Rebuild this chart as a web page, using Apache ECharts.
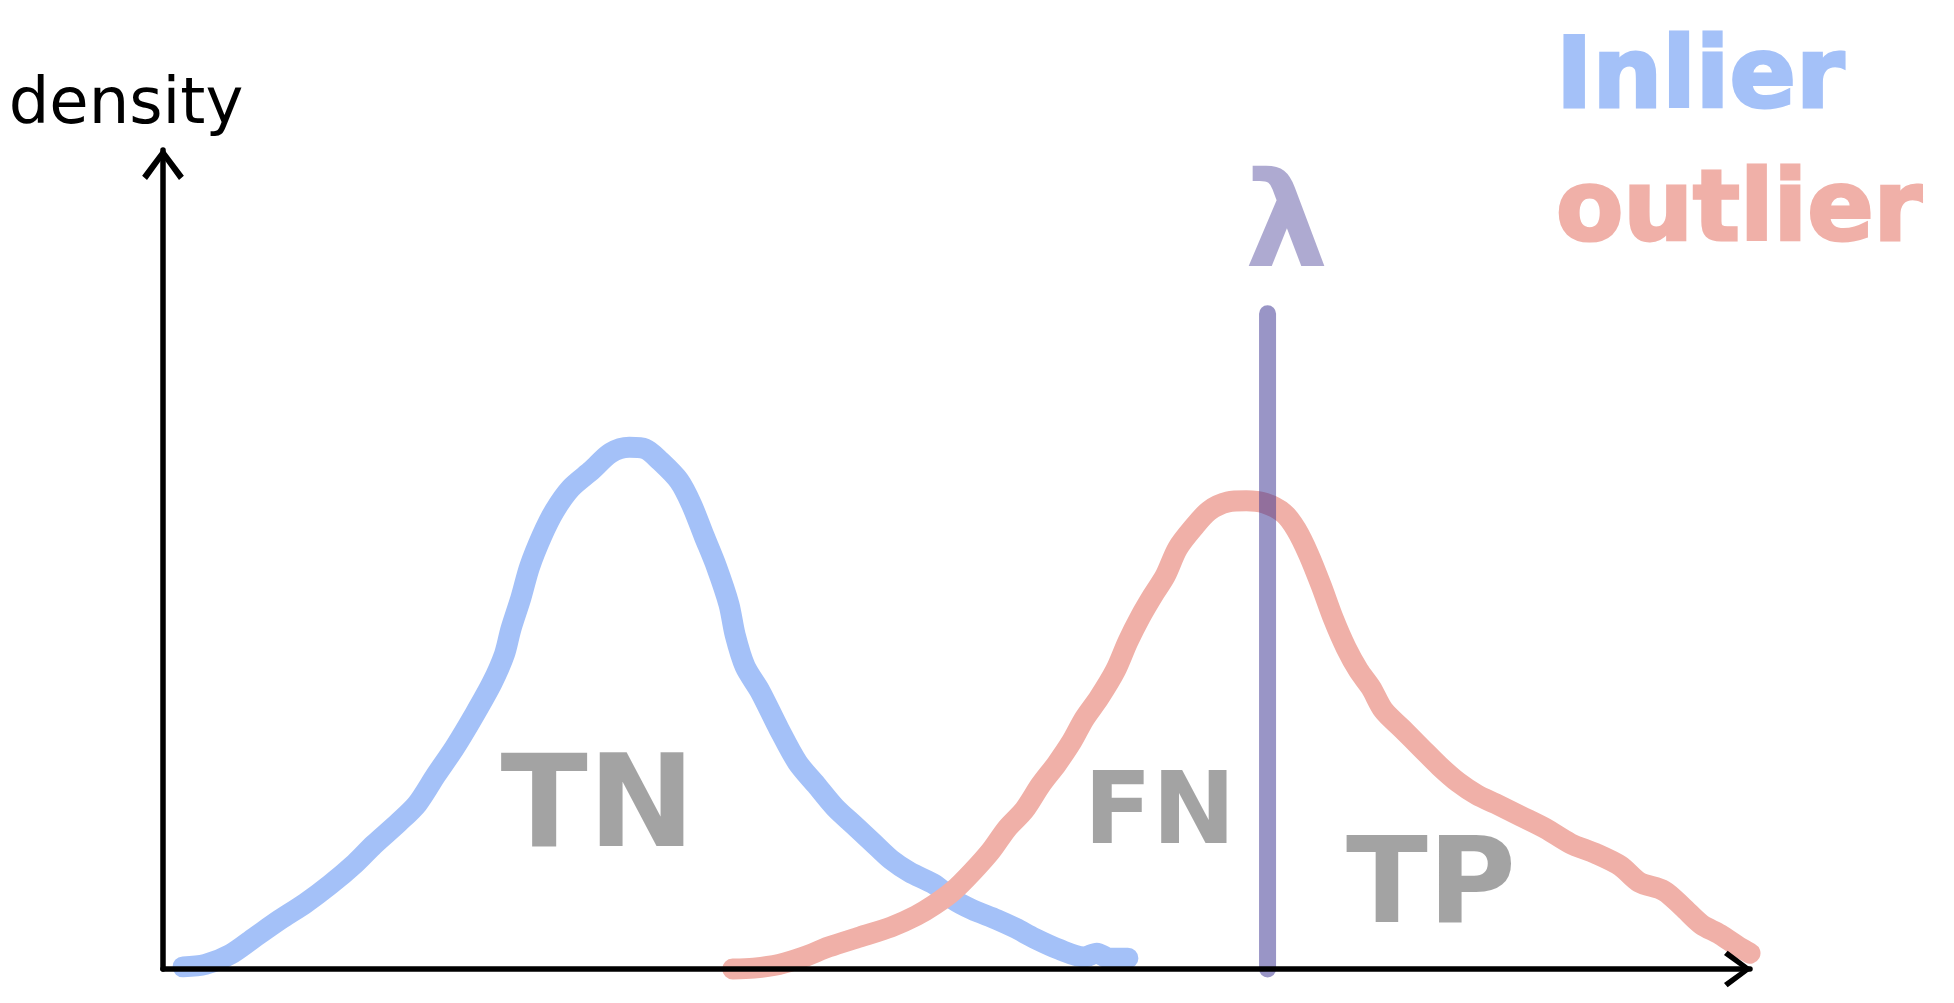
<!DOCTYPE html>
<html>
<head>
<meta charset="utf-8">
<script src="https://cdn.jsdelivr.net/npm/echarts@6/dist/echarts.min.js"></script>
<style>
html,body{margin:0;padding:0;background:#fff;}
#chart{width:1954px;height:1003px;}
</style>
</head>
<body>
<div id="chart"></div>
<script>
// ---- data ----
const inlierX = [1.26,2.67,4.24,5.81,7.38,8.96,10.53,12.10,13.28,14.85,16.03,17.20,18.38,19.56,20.74,21.52,21.92,22.55,23.10,23.88,24.67,25.69,27.02,28.20,29.38,30.40,31.34,32.52,33.31,34.09,34.88,35.66,36.06,36.68,37.63,38.81,39.98,41.16,42.34,43.52,44.70,45.88,47.05,48.63,49.80,50.98,52.55,53.73,54.91,56.48,58.05,58.84,59.62,60.80];
const inlierY = [0.26,0.56,1.78,3.91,6.04,8.02,10.30,12.89,15.17,17.91,20.19,23.69,27.04,30.84,34.95,38.45,41.49,45.30,49.10,52.90,55.94,58.7,60.9,63.0,63.7,63.5,62.0,59.6,56.71,52.90,49.10,44.54,40.73,36.93,33.89,29.33,25.22,22.48,19.74,17.61,15.48,13.35,11.83,10.30,8.48,7.26,6.04,4.98,3.76,2.39,1.48,1.93,1.32,1.32];

const outlierX = [35.90,37.23,38.81,40.38,41.95,43.91,45.88,47.45,48.63,49.80,50.98,52.16,53.18,54.28,55.30,56.32,57.27,58.05,58.99,60.02,60.80,61.59,62.37,63.16,63.94,64.96,65.91,67.09,68.26,69.44,70.62,71.41,72.19,72.98,73.76,74.55,75.33,76.12,76.90,78.08,79.26,80.44,81.62,82.80,83.97,85.55,87.12,88.69,90.26,91.83,93.01,94.58,95.76,96.94,98.12,99.29,100.0];
const outlierY = [0.0,0.11,0.56,1.48,2.69,3.91,5.13,6.50,7.87,9.55,11.83,14.41,17.15,19.43,22.48,25.06,27.80,30.54,33.13,36.47,39.97,43.01,45.60,48.03,51.38,53.97,55.94,57.01,57.16,56.86,55.64,53.66,50.62,46.82,42.71,39.21,36.47,34.34,31.60,29.33,27.04,24.76,22.78,21.26,20.19,18.67,17.15,15.32,14.11,12.59,10.61,9.55,7.57,5.44,4.22,2.69,1.93];

const thresholdX = 69.6;
const thresholdTop = 80;
const thresholdSymbol = 'λ';
const thresholdSymbolAt = [70.8, 90.0];

const regionNames = ['TN', 'FN', 'TP'];
const regionX = [27.4, 62.8, 79.9];
const regionY = [19.1, 18.6, 9.6];

const seriesNames = ['Inlier', 'outlier'];
const yAxisName = 'density';

// ---- styles ----
const BLUE = '#a4c1f8';
const RED = '#f0b0a8';
const PURPLE = 'rgba(59,51,145,0.52)';
const GRAY = 'rgba(0,0,0,0.45)';
const CHEVRON = 'path://M0,20 L15,0 L30,20 L26.5,23 L15,7 L3.5,23 Z';
const regionFont = [128, 100, 120];

const pairs = (xs, ys) => xs.map((x, i) => [x, ys[i]]);

const chart = echarts.init(document.getElementById('chart'), null, {renderer: 'canvas'});
chart.setOption({
  animation: false,
  backgroundColor: '#ffffff',
  grid: {left: 163, right: 204, top: 150, bottom: 34},
  legend: {
    orient: 'vertical',
    left: 1546,
    top: 26,
    itemGap: 32,
    itemWidth: 0,
    itemHeight: 0,
    icon: 'none',
    selectedMode: false,
    textStyle: {fontSize: 98, fontWeight: 'bold', fontFamily: 'DejaVu Sans', padding: 0},
    data: [
      {name: seriesNames[0], icon: 'none', textStyle: {color: BLUE, textBorderColor: BLUE, textBorderWidth: 3}},
      {name: seriesNames[1], icon: 'none', textStyle: {color: RED, textBorderColor: RED, textBorderWidth: 3}}
    ]
  },
  xAxis: {
    type: 'value', min: 0, max: 100, z: 10,
    axisLine: {show: true, onZero: false, lineStyle: {color: '#000', width: 5.5, cap: 'round'},
      symbol: ['none', CHEVRON], symbolSize: [46, 28], symbolOffset: [0, -12]},
    axisTick: {show: false}, axisLabel: {show: false}, splitLine: {show: false}
  },
  yAxis: {
    type: 'value', min: 0, max: 100, z: 10,
    name: yAxisName, nameLocation: 'end', nameGap: 12,
    nameTextStyle: {fontSize: 64, color: '#000', fontFamily: 'DejaVu Sans', align: 'center', padding: [0, 74, 0, 0]},
    axisLine: {show: true, onZero: false, lineStyle: {color: '#000', width: 5.5, cap: 'round'},
      symbol: ['none', CHEVRON], symbolSize: [46, 32], symbolOffset: [0, -14]},
    axisTick: {show: false}, axisLabel: {show: false}, splitLine: {show: false}
  },
  series: [
    {
      name: seriesNames[0], type: 'line', smooth: 0.3, symbol: 'none', clip: false, z: 3,
      data: pairs(inlierX, inlierY),
      itemStyle: {color: BLUE},
      lineStyle: {color: BLUE, width: 21, cap: 'round', join: 'round'}
    },
    {
      name: seriesNames[1], type: 'line', smooth: 0.3, symbol: 'none', clip: false, z: 3,
      data: pairs(outlierX, outlierY),
      itemStyle: {color: RED},
      lineStyle: {color: RED, width: 21, cap: 'round', join: 'round'}
    },
    {
      name: 'threshold', type: 'line', symbol: 'none', clip: false, z: 4,
      data: [[thresholdX, 0], [thresholdX, thresholdTop]],
      lineStyle: {color: PURPLE, width: 17, cap: 'round'}
    },
    {
      name: 'thresholdLabel', type: 'scatter', symbolSize: 0, z: 5, clip: false,
      data: [{value: thresholdSymbolAt, name: thresholdSymbol}],
      label: {show: true, position: 'inside', formatter: '{b}', color: PURPLE,
        fontSize: 132, fontFamily: 'DejaVu Sans', fontWeight: 'bold'}
    },
    {
      name: 'regions', type: 'scatter', symbolSize: 0, z: 5, clip: false,
      data: regionNames.map((n, i) => ({value: [regionX[i], regionY[i]], name: n,
        label: {fontSize: regionFont[i]}})),
      label: {show: true, position: 'inside', formatter: '{b}', color: GRAY,
        fontSize: 112, fontFamily: 'DejaVu Sans', fontWeight: 'bold'}
    }
  ]
});
</script>
</body>
</html>
